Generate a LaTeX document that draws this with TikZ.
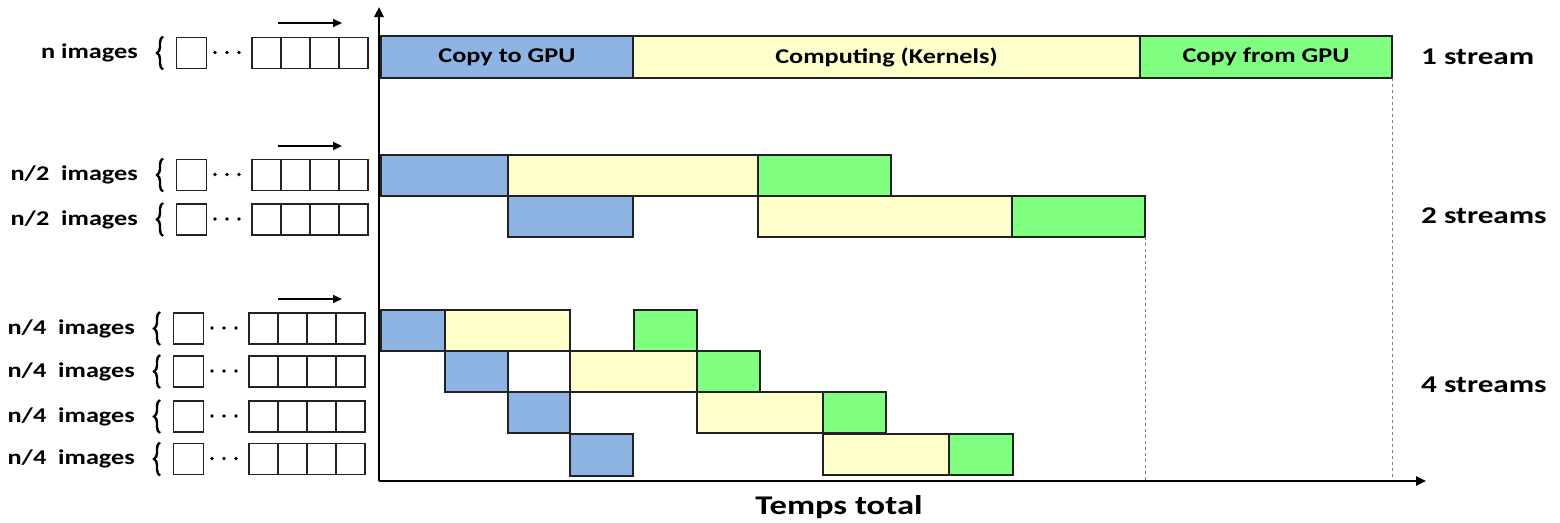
\documentclass[tikz,border=0pt]{standalone}
\usepackage{fontspec}
\usepackage{graphicx}
\setmainfont{Carlito}
\usetikzlibrary{arrows.meta,decorations.pathreplacing}
\definecolor{cpy}{HTML}{8DB4E2}
\definecolor{krn}{HTML}{FFFFCC}
\definecolor{bck}{HTML}{80FF80}
\definecolor{edge}{HTML}{222222}

% bold text set wider than the font draws it
\newcommand\wide[2][1.25]{\scalebox{#1}[1]{#2}}

% one bar of the timeline: name, x left, x right, y top, y bottom, fill, text
\newcommand\tbar[7]{%
  \node[tbox, fill=#6, minimum width={#3-#2}, minimum height={#5-#4},
        anchor=north west] (#1) at (#2,#4) {\wide{#7}};}

% one queue of images: name, x shift, y centre, label
\newcommand\imgstrip[4]{%
  \begin{scope}[xshift=#2]
    \node[lbl, anchor=east] (#1l) at (138,#3) {\wide{#4}};
    \draw[line width=2.4pt, decorate, decoration={brace, amplitude=6pt, aspect=0.5}]
      (163,#3+16.5) -- (163,#3-16.5);
    \node[cell, minimum width=30] (#1a) at (191.5,#3) {};
    \foreach \d in {215,227,239} \fill (\d,#3-0.5) circle (1.8);
    \node[cell, anchor=west] (#1b) at (252,#3) {};
    \node[cell, anchor=west] (#1c) at (#1b.east) {};
    \node[cell, anchor=west] (#1d) at (#1c.east) {};
    \node[cell, anchor=west] (#1e) at (#1d.east) {};
  \end{scope}}

\begin{document}
\begin{tikzpicture}[x=1pt, y=-1pt,
  tbox/.style={draw=edge, line width=1.3pt, inner sep=0pt, outer sep=0pt,
               font=\bfseries\fontsize{21}{24}\selectfont},
  lbl/.style={font=\bfseries\fontsize{21}{24}\selectfont, inner sep=0pt},
  side/.style={font=\bfseries\fontsize{24}{26}\selectfont, inner sep=0pt, anchor=west},
  cell/.style={draw=edge, line width=1.2pt, minimum width=29, minimum height=31,
               inner sep=0pt, outer sep=0pt},
  axis/.style={line width=2.4pt, -{Triangle[length=10pt, width=9pt]}},
  flow/.style={line width=1.8pt, -{Triangle[length=9pt, width=8pt]}},
  guide/.style={draw=gray, dashed, line width=0.9pt}]

\useasboundingbox (0,0) rectangle (1560,522);

% queues of images on the left
\imgstrip{qa}{0}{53}{n images}
\imgstrip{qb}{0}{175}{n/2\ \ images}
\imgstrip{qc}{0}{219.5}{n/2\ \ images}
\imgstrip{qd}{-3}{328.5}{n/4\ \ images}
\imgstrip{qe}{-3}{371.5}{n/4\ \ images}
\imgstrip{qf}{-3}{416.5}{n/4\ \ images}
\imgstrip{qg}{-3}{459}{n/4\ \ images}

% direction of the queues
\coordinate (fa1) at (278,23);  \coordinate (fa2) at (342,23);
\coordinate (fb1) at (278,146); \coordinate (fb2) at (342,146);
\coordinate (fc1) at (278,299); \coordinate (fc2) at (342,299);
\draw[flow] (fa1) -- (fa2);
\draw[flow] (fb1) -- (fb2);
\draw[flow] (fc1) -- (fc2);

% one stream
\tbar{s1c}{381}{633}{36}{78}{cpy}{Copy to GPU}
\tbar{s1k}{633}{1140}{36}{78}{krn}{Computing (Kernels)}
\tbar{s1g}{1140}{1392}{36}{78}{bck}{Copy from GPU}

% two streams
\tbar{s2ac}{381}{508}{155}{196}{cpy}{}
\tbar{s2ak}{508}{758}{155}{196}{krn}{}
\tbar{s2ag}{758}{891}{155}{196}{bck}{}
\tbar{s2bc}{508}{633}{196}{237}{cpy}{}
\tbar{s2bk}{758}{1012}{196}{237}{krn}{}
\tbar{s2bg}{1012}{1145}{196}{237}{bck}{}

% four streams
\tbar{s4ac}{381}{445}{310}{351}{cpy}{}
\tbar{s4ak}{445}{570}{310}{351}{krn}{}
\tbar{s4ag}{634}{697}{310}{351}{bck}{}
\tbar{s4bc}{445}{508}{351}{392}{cpy}{}
\tbar{s4bk}{570}{697}{351}{392}{krn}{}
\tbar{s4bg}{697}{760}{351}{392}{bck}{}
\tbar{s4cc}{508}{570}{392}{433}{cpy}{}
\tbar{s4ck}{697}{823}{392}{433}{krn}{}
\tbar{s4cg}{823}{886}{392}{433}{bck}{}
\tbar{s4dc}{570}{633}{434}{476}{cpy}{}
\tbar{s4dk}{823}{949}{434}{475}{krn}{}
\tbar{s4dg}{949}{1013}{434}{475}{bck}{}

% axes
\coordinate (orig) at (379,481);
\coordinate (ytop) at (379,7);
\coordinate (xend) at (1426,481);

% end of each configuration
\draw[guide] (s2bg.south east) -- (s2bg.south east |- orig);
\draw[guide] (s1g.south east) -- (s1g.south east |- orig);

\draw[axis] (orig) -- (ytop);
\draw[axis] (orig) -- (xend);

\node[side] (n1) at (1421,57) {\wide[1.3]{1 stream}};
\node[side] (n2) at (1421,216) {\wide[1.3]{2 streams}};
\node[side] (n4) at (1421,385) {\wide[1.3]{4 streams}};
\node[font=\bfseries\fontsize{27}{29}\selectfont] (tt) at (839,507) {\wide[1.28]{Temps total}};
\end{tikzpicture}
\end{document}
